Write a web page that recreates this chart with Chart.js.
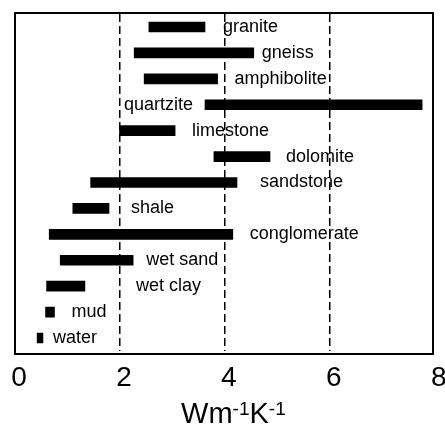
<!DOCTYPE html>
<html>
<head>
<meta charset="utf-8">
<script src="https://cdn.jsdelivr.net/npm/chart.js@4/dist/chart.umd.min.js"></script>
<style>
  body { margin: 0; background: #fff; }
</style>
</head>
<body>
<canvas id="chart" width="445" height="424"></canvas>
<script>
// Thermal conductivity ranges per material (W/m/K)
const materials = ['granite', 'gneiss', 'amphibolite', 'quartzite', 'limestone', 'dolomite',
    'sandstone', 'shale', 'conglomerate', 'wet sand', 'wet clay', 'mud', 'water'];
const rangeLow = [2.56, 2.28, 2.47, 3.63, 2.0, 3.8, 1.45, 1.11, 0.66, 0.87, 0.61, 0.59, 0.43];
const rangeHigh = [3.63, 4.56, 3.87, 7.77, 3.06, 4.87, 4.24, 1.8, 4.16, 2.26, 1.34, 0.76, 0.54];
const xTicks = [0, 2, 4, 6, 8];

// label placement next to each bar (pixels from bar end, quartzite sits left)
const labelGap = [18, 8, 17, 12, 17, 16, 23, 22, 17, 13, 51, 17, 10];
const labelLeft = ['quartzite'];

const FONT = "'Liberation Sans', Arial, sans-serif";

// text labels beside bars
const barLabels = {
    id: 'barLabels',
    afterDatasetsDraw(chart) {
        const ctx = chart.ctx;
        const meta = chart.getDatasetMeta(0);
        ctx.save();
        ctx.fillStyle = '#000';
        ctx.font = '18px ' + FONT;
        ctx.textBaseline = 'middle';
        meta.data.forEach((bar, i) => {
            const name = materials[i];
            const lo = Math.min(bar.x, bar.base);
            const hi = Math.max(bar.x, bar.base);
            if (labelLeft.includes(name)) {
                ctx.textAlign = 'right';
                ctx.fillText(name, lo - labelGap[i], bar.y);
            } else {
                ctx.textAlign = 'left';
                ctx.fillText(name, hi + labelGap[i], bar.y);
            }
        });
        ctx.restore();
    }
};

// frame around the plot and the unit title with superscripts
const frameAndTitle = {
    id: 'frameAndTitle',
    afterDraw(chart) {
        const ctx = chart.ctx;
        const a = chart.chartArea;
        ctx.save();
        ctx.strokeStyle = '#000';
        ctx.lineWidth = 2;
        ctx.strokeRect(a.left + 0.4, a.top - 1, a.right - a.left - 1.6, a.bottom - a.top + 4);

        const parts = [
            { t: 'Wm', sup: false }, { t: '-1', sup: true },
            { t: 'K', sup: false }, { t: '-1', sup: true }
        ];
        const big = '29px ' + FONT;
        const small = '19px ' + FONT;
        let total = 0;
        parts.forEach(p => {
            ctx.font = p.sup ? small : big;
            p.w = ctx.measureText(p.t).width;
            total += p.w;
        });
        const cx = chart.scales.x.getPixelForValue(4) + 9;
        let x = cx - total / 2;
        const baseY = 423;
        ctx.fillStyle = '#000';
        ctx.textAlign = 'left';
        ctx.textBaseline = 'alphabetic';
        parts.forEach(p => {
            ctx.font = p.sup ? small : big;
            ctx.fillText(p.t, x, p.sup ? baseY - 8 : baseY);
            x += p.w;
        });
        ctx.restore();
    }
};

new Chart(document.getElementById('chart'), {
    type: 'bar',
    data: {
        labels: materials,
        datasets: [{
            data: materials.map((m, i) => [rangeLow[i], rangeHigh[i]]),
            backgroundColor: '#000',
            borderWidth: 0,
            barThickness: 10
        }]
    },
    options: {
        indexAxis: 'y',
        responsive: false,
        animation: false,
        layout: { padding: { left: 14.6, right: 10.8, top: 14, bottom: 18 } },
        plugins: {
            legend: { display: false },
            tooltip: { enabled: false }
        },
        scales: {
            x: {
                type: 'linear',
                min: 0,
                max: 8,
                afterBuildTicks: axis => { axis.ticks = xTicks.map(v => ({ value: v })); },
                grid: {
                    drawTicks: false,
                    lineWidth: 1.5,
                    color: c => (c.tick && (c.tick.value === 0 || c.tick.value === 8)) ? 'rgba(0,0,0,0)' : '#000'
                },
                border: { display: false, dash: [8, 4] },
                ticks: {
                    color: '#000',
                    font: { size: 28, family: FONT, lineHeight: 1.75 },
                    padding: 3,
                    labelOffset: 4.5,
                    maxRotation: 0
                }
            },
            y: {
                type: 'category',
                display: false,
                offset: true
            }
        }
    },
    plugins: [barLabels, frameAndTitle]
});
</script>
</body>
</html>
